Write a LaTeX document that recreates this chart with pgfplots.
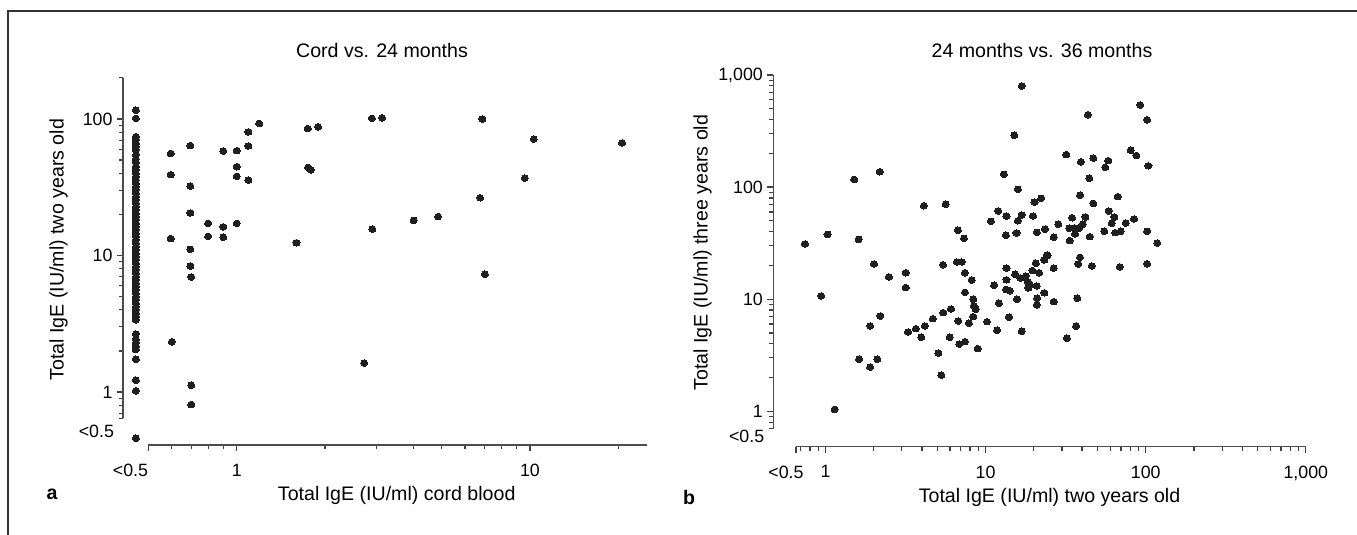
\documentclass[border=0pt]{standalone}
\usepackage{fontspec}
\setmainfont{Liberation Sans}
\usepackage{pgfplots}
\usepackage{pgfplotstable}
\pgfplotsset{compat=1.18}

% cord blood (x) vs 24 months (y); "<0.5" values sit at 0.45
\pgfplotstableread{
x y
0.453 116
0.453 101
0.453 74.2
0.453 70.2
0.453 66.4
0.453 62.8
0.453 59.3
0.453 54.5
0.453 50.9
0.453 48.2
0.453 44.8
0.453 42.3
0.453 40.0
0.453 37.8
0.453 35.7
0.453 33.8
0.453 31.9
0.453 30.2
0.453 28.6
0.453 27.0
0.453 25.5
0.453 24.1
0.453 22.8
0.453 21.6
0.453 20.4
0.453 19.3
0.453 18.2
0.453 17.2
0.453 16.3
0.453 15.4
0.453 14.5
0.453 13.8
0.453 13.0
0.453 12.3
0.453 11.6
0.453 11.0
0.453 10.4
0.453 9.82
0.453 9.28
0.453 8.77
0.453 8.29
0.453 7.84
0.453 7.41
0.453 7.00
0.453 6.62
0.453 6.26
0.453 5.92
0.453 5.59
0.453 5.29
0.453 5.00
0.453 4.73
0.453 4.47
0.453 4.22
0.453 3.99
0.453 3.77
0.453 3.57
0.453 3.37
0.453 2.66
0.453 2.43
0.453 2.30
0.453 2.17
0.453 2.05
0.453 1.74
0.453 1.22
0.453 1.02
0.453 0.458
0.596 55.9
0.596 39.1
0.596 13.3
0.601 2.33
0.695 63.8
0.695 32.2
0.695 20.5
0.695 11.1
0.695 8.37
0.700 6.96
0.700 1.12
0.700 0.808
0.799 17.2
0.799 13.8
0.900 58.2
0.900 16.2
0.900 13.6
1.000 58.6
1.000 44.7
1.000 38.0
1.000 17.2
1.096 80.4
1.096 63.5
1.096 35.7
1.193 92.8
1.599 12.4
1.747 85.1
1.895 87.6
1.750 44.2
1.790 42.4
2.89 101
3.13 102
2.72 1.63
2.90 15.6
4.01 18.1
4.86 19.3
6.76 26.5
6.88 100
7.02 7.29
9.60 36.9
10.3 71.2
20.6 66.8
}\cordtab

% 24 months (x) vs 36 months (y)
\pgfplotstableread{
x y
0.745 31.1
1.03 37.9
1.61 34.2
1.51 117
2.18 137
4.12 68.2
5.63 70.3
6.72 41.2
7.33 34.9
16.8 798
43.6 442
15.1 290
80.6 213
87.5 191
31.9 195
39.4 168
47.1 181
58.4 172
55.9 150
13.0 130
44.4 120
15.9 95.5
38.9 84.5
66.8 82.1
20.2 73.6
22.2 79.4
47.1 71.6
12.0 61.2
13.5 55.2
16.8 56.4
15.9 50.1
19.8 55.2
10.8 49.5
34.7 53.3
42.0 54.1
58.7 61.2
63.7 54.1
61.3 47.5
75.0 47.8
84.5 51.9
28.5 46.6
33.3 42.9
35.7 43.2
38.3 42.9
40.4 46.6
36.2 38.2
33.5 33.3
44.7 36.1
55.1 40.4
64.6 39.2
69.8 40.4
13.4 37.2
15.6 39.0
20.9 39.5
23.5 42.1
26.6 35.7
24.2 24.8
38.9 23.6
92.5 540
102 398
104 155
102 40.3
118 31.7
102 20.7
68.9 19.4
2.01 20.6
2.49 15.8
3.17 17.2
3.17 12.7
5.42 20.3
6.6 21.5
7.1 21.5
0.94 10.7
2.2 7.08
1.9 5.77
3.28 5.1
3.67 5.46
4.17 5.77
4.68 6.7
5.44 7.58
6.08 8.18
6.75 6.39
3.97 4.57
5.97 4.57
6.85 3.98
7.43 4.18
5.07 3.31
5.29 2.1
1.62 2.91
2.11 2.91
1.9 2.48
1.14 1.04
7.43 17.2
8.19 14.8
7.43 11.5
8.38 9.98
8.47 8.7
8.67 8.13
8.38 6.98
7.87 6.1
10.2 6.3
11.8 5.28
14.0 6.9
16.8 5.17
8.92 3.62
32.2 4.48
36.7 5.73
37.4 10.2
11.3 13.3
13.5 14.9
13.5 18.9
13.4 12.2
14.2 11.9
12.1 9.19
15.7 10.0
15.3 16.7
16.5 15.4
17.8 16.1
18.3 14.3
18.9 13.4
18.5 12.6
20.9 13.1
21.0 10.2
20.9 8.88
23.3 11.4
26.6 9.5
19.6 18.0
21.6 17.2
20.6 20.9
23.3 22.4
24.4 24.6
26.6 18.9
37.9 20.6
46.0 19.8
}\yeartab

\newcommand{\txt}{\fontsize{9.8}{11}\selectfont}
\newcommand{\tck}{\fontsize{8.9}{10}\selectfont}
\tikzset{axisln/.style={black!70, line width=0.7pt}}

\begin{document}
\begin{tikzpicture}

\draw[black!80, line width=0.75pt] (4pt,-267.5pt) -- (4pt,-5.5pt) -- (678.5pt,-5.5pt);

% panel a
\begin{axis}[at={(61.5pt,-222.5pt)}, anchor=south west,
  xmode=log, ymode=log, scale only axis, clip=false,
  width=261.85pt, height=183.55pt,
  xmin=0.4095, xmax=25, ymin=0.409, ymax=200,
  axis line style={draw=none},
  tick align=outside, xtick pos=left, ytick pos=left,
  major tick length=3.2pt, minor tick length=2pt,
  tick style={black!75, line width=0.6pt},
  tick label style={font=\tck},
  xticklabel style={yshift=-2.8pt},
  yticklabel style={xshift=1.5pt},
  xtick={1,10}, xticklabels={1,10},
  minor xtick={0.6,0.7,0.8,0.9,2,3,4,5,6,7,8,9,20},
  extra x ticks={0.5}, extra x tick labels={<0.5},
  extra x tick style={xticklabel style={xshift=-9pt}},
  ytick={1,10,100}, yticklabels={1,10,100},
  minor ytick={0.64,0.7,0.8,0.9,2,3,4,5,6,7,8,9,20,30,40,50,60,70,80,90,200},
  extra y ticks={0.518}, extra y tick labels={<0.5},
  extra y tick style={major tick length=0pt, yticklabel style={xshift=-2.5pt}},
]
\draw[axisln] (axis cs:0.5,0.409) -- (axis cs:25,0.409);
\draw[axisln] (axis cs:0.4095,0.64) -- (axis cs:0.4095,200);
\addplot[only marks, mark=*, mark size=1.65pt, black!88,
  mark options={xscale=1.08, line width=0pt}] table[x=x,y=y] {\cordtab};
\end{axis}

% panel b
\begin{axis}[at={(386.65pt,-223.35pt)}, anchor=south west,
  xmode=log, ymode=log, scale only axis, clip=false,
  width=266.25pt, height=185.85pt,
  xmin=0.472, xmax=1000, ymin=0.483, ymax=1000,
  axis line style={draw=none},
  tick align=outside, xtick pos=left, ytick pos=left,
  major tick length=3.2pt, minor tick length=2pt,
  tick style={black!75, line width=0.6pt},
  tick label style={font=\tck},
  xticklabel style={yshift=-2.8pt},
  yticklabel style={xshift=1.5pt},
  xtick={1,10,100,1000}, xticklabels={1,10,100,{1,000}},
  minor xtick={0.7,0.8,0.9,2,3,4,5,6,7,8,9,20,30,40,50,60,70,80,90,200,300,400,500,600,700,800,900},
  extra x ticks={0.654}, extra x tick labels={<0.5},
  extra x tick style={xticklabel style={xshift=-5pt}},
  ytick={1,10,100,1000}, yticklabels={1,10,100,{1,000}},
  minor ytick={0.7,0.8,0.9,2,3,4,5,6,7,8,9,20,30,40,50,60,70,80,90,200,300,400,500,600,700,800,900},
  extra y ticks={0.593}, extra y tick labels={<0.5},
  extra y tick style={major tick length=0pt, yticklabel style={xshift=-2.5pt}},
]
\draw[axisln] (axis cs:0.654,0.483) -- (axis cs:1000,0.483);
\draw[axisln] (axis cs:0.472,0.7) -- (axis cs:0.472,1000);
\addplot[only marks, mark=*, mark size=1.65pt, black!88,
  mark options={xscale=1.08, line width=0pt}] table[x=x,y=y] {\yeartab};
\end{axis}

\node[font=\txt] at (191pt,-25pt) {Cord vs. 24 months};
\node[font=\txt] at (521pt,-25pt) {24 months vs. 36 months};
\node[font=\txt] at (198.35pt,-247.5pt) {Total IgE (IU/ml) cord blood};
\node[font=\txt] at (524.75pt,-248.5pt) {Total IgE (IU/ml) two years old};
\node[font=\txt, rotate=90] at (29.25pt,-124.85pt) {Total IgE (IU/ml) two years old};
\node[font=\txt, rotate=90] at (351.25pt,-126.3pt) {Total IgE (IU/ml) three years old};
\node[font=\txt\bfseries] at (26pt,-247pt) {a};
\node[font=\txt\bfseries] at (344.5pt,-248.5pt) {b};

\pgfresetboundingbox
\path[use as bounding box] (0,0) rectangle (678.5pt,-267.5pt);
\end{tikzpicture}
\end{document}
